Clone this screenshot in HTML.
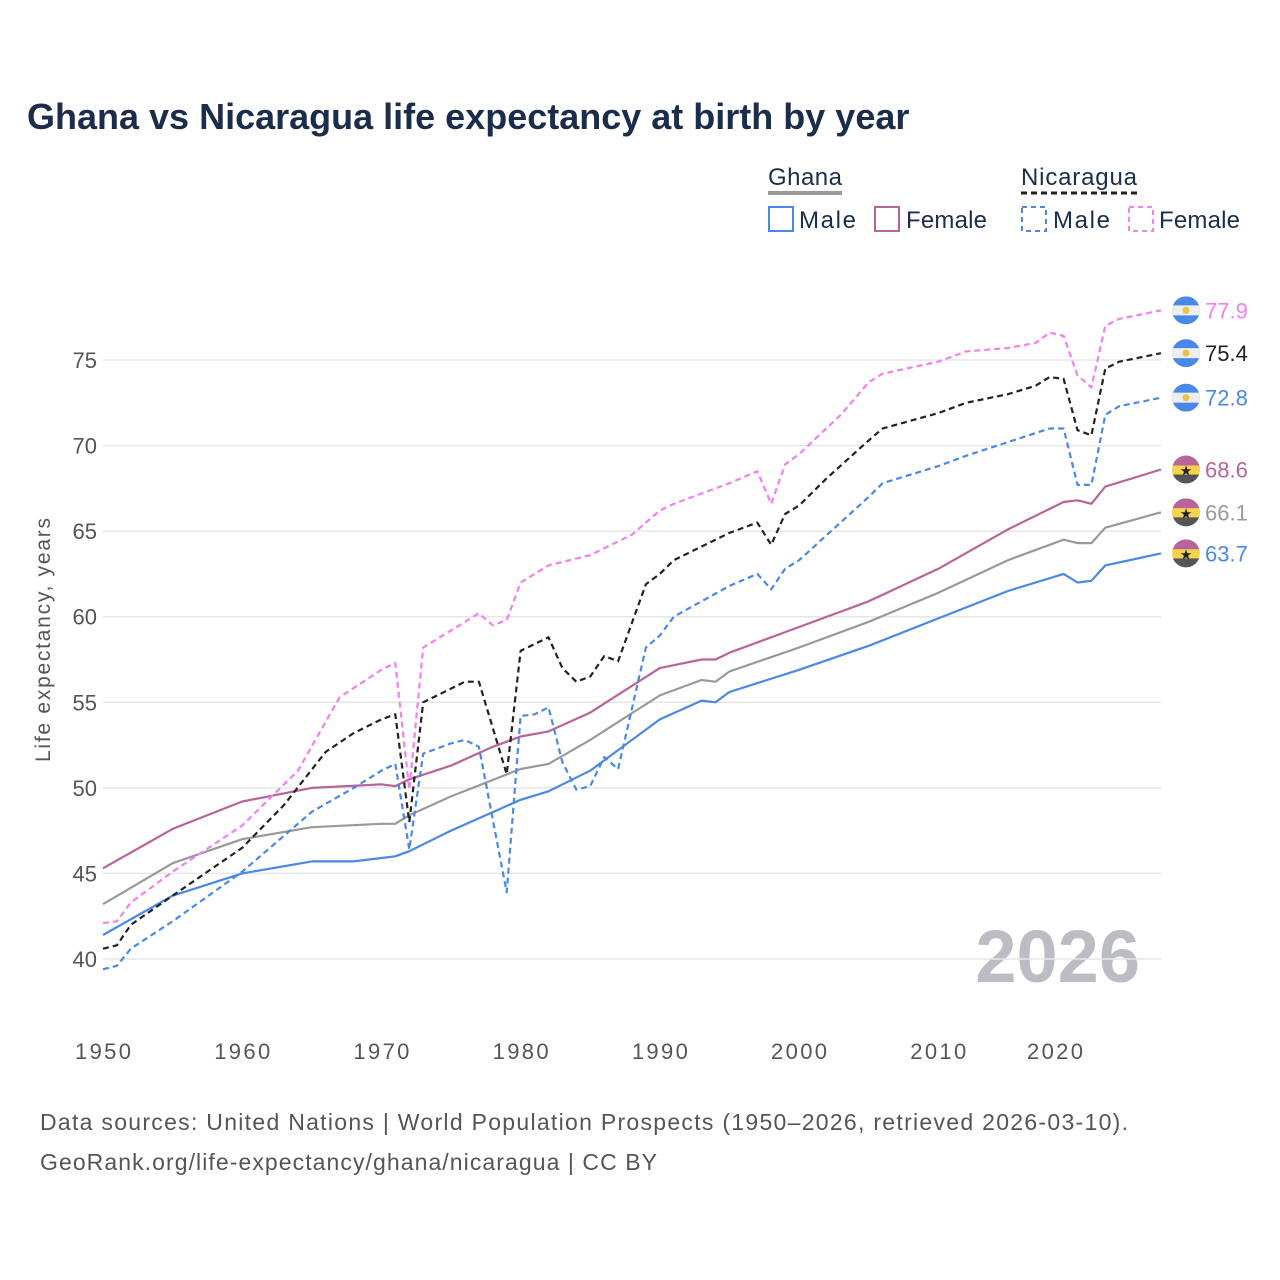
<!DOCTYPE html>
<html><head><meta charset="utf-8"><style>
body{margin:0;background:#fff;}
svg{display:block;font-family:"Liberation Sans",sans-serif;}
</style></head><body>
<svg id="chart" width="1280" height="1280" viewBox="0 0 1280 1280">
<rect width="1280" height="1280" fill="#fff"/>
<text x="27" y="129" font-size="36" font-weight="bold" fill="#1b2d4b">Ghana vs Nicaragua life expectancy at birth by year</text>
<g font-size="24" fill="#1b2d4b">
<text x="768" y="185" textLength="74">Ghana</text>
<line x1="768" y1="193" x2="842" y2="193" stroke="#999" stroke-width="4"/>
<text x="1021" y="185" textLength="116">Nicaragua</text>
<line x1="1021" y1="193" x2="1137" y2="193" stroke="#222" stroke-width="3" stroke-dasharray="6,4"/>
<g><rect x="769" y="207" width="24" height="24" fill="none" stroke="#4a88e8" stroke-width="2"/><text x="799" y="228" textLength="57">Male</text></g>
<g><rect x="875" y="207" width="24" height="24" fill="none" stroke="#b8649a" stroke-width="2"/><text x="906" y="228" textLength="81">Female</text></g>
<g><rect x="1022" y="207" width="24" height="24" fill="none" stroke="#4a88e8" stroke-width="2" stroke-dasharray="5,4"/><text x="1053" y="228" textLength="57">Male</text></g>
<g><rect x="1129" y="207" width="24" height="24" fill="none" stroke="#f47ff0" stroke-width="2" stroke-dasharray="5,4"/><text x="1159" y="228" textLength="81">Female</text></g>
</g>
<text transform="translate(50,640) rotate(-90)" text-anchor="middle" font-size="21" textLength="244" fill="#555">Life expectancy, years</text>
<text x="1140" y="982" text-anchor="end" font-size="74" font-weight="bold" fill="#bcbcc4">2026</text>
<g id="grid"></g><g id="series"></g><g id="ends"></g>
<text x="40" y="1130" font-size="23" textLength="1088" fill="#555">Data sources: United Nations | World Population Prospects (1950–2026, retrieved 2026-03-10).</text>
<text x="40" y="1170" font-size="23" textLength="617" fill="#555">GeoRank.org/life-expectancy/ghana/nicaragua | CC BY</text>
</svg>
<script>
const yTicks=[40,45,50,55,60,65,70,75];
const xTicks=[1950,1960,1970,1980,1990,2000,2010,2020];
const ghF_years=[1950,1955,1960,1965,1970,1971,1972,1975,1978,1980,1982,1985,1990,1993,1994,1995,2000,2005,2010,2015,2019,2020,2021,2022,2026];
const ghF=[45.3,47.6,49.2,50.0,50.2,50.1,50.5,51.3,52.4,53.0,53.3,54.4,57.0,57.5,57.5,57.9,59.4,60.9,62.8,65.1,66.7,66.8,66.6,67.6,68.6];
const ghT_years=[1950,1955,1960,1965,1970,1971,1972,1975,1980,1982,1985,1990,1993,1994,1995,2000,2005,2010,2015,2019,2020,2021,2022,2026];
const ghT=[43.2,45.6,47.0,47.7,47.9,47.9,48.4,49.5,51.1,51.4,52.8,55.4,56.3,56.2,56.8,58.2,59.7,61.4,63.3,64.5,64.3,64.3,65.2,66.1];
const ghM_years=[1950,1955,1960,1965,1968,1970,1971,1972,1975,1980,1982,1985,1990,1993,1994,1995,2000,2005,2010,2015,2019,2020,2021,2022,2026];
const ghM=[41.4,43.7,45.0,45.7,45.7,45.9,46.0,46.3,47.5,49.3,49.8,51.0,54.0,55.1,55.0,55.6,56.9,58.3,59.9,61.5,62.5,62.0,62.1,63.0,63.7];
const niF_years=[1950,1951,1952,1955,1960,1964,1967,1970,1971,1972,1973,1975,1977,1978,1979,1980,1982,1985,1988,1990,1991,1995,1997,1998,1999,2000,2003,2005,2006,2010,2012,2015,2017,2018,2019,2020,2021,2022,2023,2026];
const niF=[42.1,42.2,43.3,45.1,47.8,51.0,55.3,56.9,57.3,49.9,58.2,59.2,60.2,59.5,59.8,62.0,63.0,63.6,64.8,66.2,66.6,67.8,68.5,66.6,68.9,69.5,71.8,73.7,74.2,74.9,75.5,75.7,76.0,76.6,76.4,74.1,73.4,77.0,77.4,77.9];
const niT_years=[1950,1951,1952,1955,1960,1963,1966,1968,1970,1971,1972,1973,1975,1976,1977,1979,1980,1982,1983,1984,1985,1986,1987,1989,1990,1991,1995,1997,1998,1999,2000,2002,2005,2006,2010,2012,2015,2017,2018,2019,2020,2021,2022,2023,2026];
const niT=[40.6,40.8,42.0,43.7,46.5,49.0,52.1,53.2,54.0,54.3,48.0,55.0,55.8,56.2,56.2,50.8,58.0,58.8,57.0,56.2,56.5,57.7,57.4,61.9,62.5,63.3,64.9,65.5,64.2,66.0,66.5,68.1,70.3,71.0,71.9,72.5,73.0,73.5,74.0,73.9,70.9,70.6,74.5,74.9,75.4];
const niM_years=[1950,1951,1952,1955,1960,1965,1968,1970,1971,1972,1973,1975,1976,1977,1979,1980,1981,1982,1983,1984,1985,1986,1987,1989,1990,1991,1995,1997,1998,1999,2000,2005,2006,2010,2012,2015,2018,2019,2020,2021,2022,2023,2026];
const niM=[39.4,39.6,40.6,42.2,45.1,48.6,50.0,51.0,51.4,46.4,52.0,52.6,52.8,52.4,43.9,54.2,54.3,54.7,51.5,49.9,50.1,51.8,51.1,58.2,58.9,60.0,61.8,62.5,61.6,62.8,63.3,67.0,67.8,68.8,69.4,70.2,71.0,71.0,67.7,67.7,71.8,72.3,72.8];

const NS='http://www.w3.org/2000/svg';
const X=y=>103+(y-1950)*(1161-103)/76;
const Y=v=>360+(75-v)*(959-360)/35;
function mk(tag,attrs,parent){const e=document.createElementNS(NS,tag);for(const k in attrs)e.setAttribute(k,attrs[k]);parent.appendChild(e);return e;}
const grid=document.getElementById('grid');
yTicks.forEach(t=>{
  const l=mk('line',{x1:103,x2:1161,y1:Y(t),y2:Y(t),stroke:'#e6e6e6','stroke-width':1.5},grid);
  
  
  const tx=mk('text',{x:97,y:Y(t)+8,'text-anchor':'end','font-size':22,fill:'#555'},grid);
  tx.textContent=t;
  
  
});
xTicks.forEach(t=>{
  const cx=t===2020?1055:X(t);
  const tx=mk('text',{x:cx,y:1059,'text-anchor':'middle','font-size':22,textLength:56,fill:'#555'},grid);
  tx.textContent=t;
  
  
});
const series=[
 {n:'ghana-female',yr:ghF_years,v:ghF,c:'#b8649a',d:null,flag:'gh'},
 {n:'ghana-total',yr:ghT_years,v:ghT,c:'#999999',d:null,flag:'gh'},
 {n:'ghana-male',yr:ghM_years,v:ghM,c:'#4a88e8',d:null,flag:'gh'},
 {n:'nicaragua-female',yr:niF_years,v:niF,c:'#f47ff0',d:'6,4',flag:'ni'},
 {n:'nicaragua-total',yr:niT_years,v:niT,c:'#222222',d:'6,4',flag:'ni'},
 {n:'nicaragua-male',yr:niM_years,v:niM,c:'#4a88e8',d:'6,4',flag:'ni'}
];
const sg=document.getElementById('series'),eg=document.getElementById('ends');
series.forEach(s=>{
  const pts=s.yr.map((y,i)=>X(y).toFixed(1)+','+Y(s.v[i]).toFixed(1)).join(' ');
  const p=mk('polyline',{points:pts,fill:'none',stroke:s.c,'stroke-width':2.2,'stroke-linejoin':'round'},sg);
  if(s.d)p.setAttribute('stroke-dasharray',s.d);
  
  
  const last=s.v[s.v.length-1],ly=Y(last);
  const g=mk('g',{},eg);
  
  
  const cx=1186;
  const clipId='c'+s.n;
  const cp=mk('clipPath',{id:clipId},g);mk('circle',{cx:cx,cy:ly,r:14},cp);
  const fg=mk('g',{'clip-path':'url(#'+clipId+')'},g);
  if(s.flag==='gh'){
    mk('rect',{x:cx-14,y:ly-14,width:28,height:10,fill:'#b8649a'},fg);
    mk('rect',{x:cx-14,y:ly-4,width:28,height:9,fill:'#f7d34a'},fg);
    mk('rect',{x:cx-14,y:ly+5,width:28,height:10,fill:'#555'},fg);
    const st=mk('text',{x:cx,y:ly+6,'text-anchor':'middle','font-size':14,fill:'#222'},fg);st.textContent='★';
  }else{
    mk('rect',{x:cx-14,y:ly-14,width:28,height:28,fill:'#4a88e8'},fg);
    mk('rect',{x:cx-14,y:ly-5,width:28,height:10,fill:'#eeeeee'},fg);
    mk('circle',{cx:cx,cy:ly,r:3.5,fill:'#e8c34a'},fg);
  }
  const t=mk('text',{x:1205,y:ly+8,'font-size':22,fill:s.c},g);
  t.textContent=last.toFixed(1);
});
</script>
</body></html>
